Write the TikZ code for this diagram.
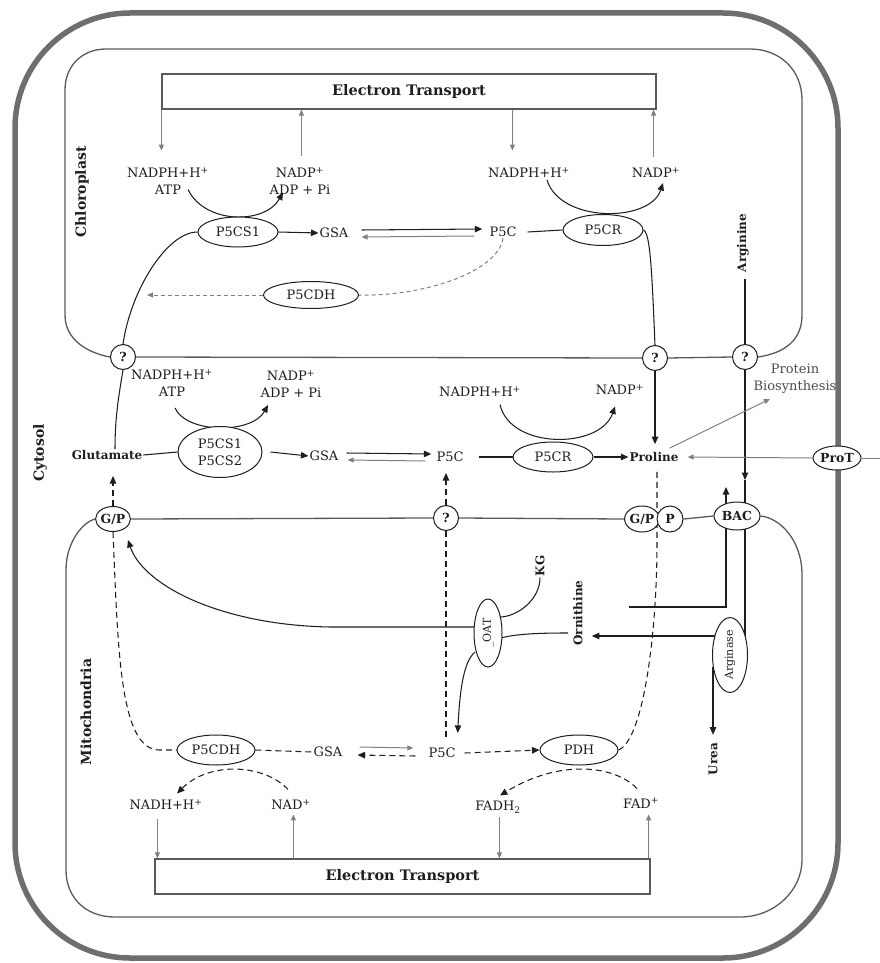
\documentclass[tikz,border=0pt]{standalone}
\usepackage{fontspec}
\setmainfont{DejaVu Serif}
\usetikzlibrary{shapes.geometric,arrows.meta,calc}
\pgfdeclarelayer{bg}
\pgfsetlayers{bg,main}
\definecolor{memc}{HTML}{5A5A5A}
\definecolor{outc}{HTML}{6E6E6E}
\definecolor{grc}{HTML}{808080}
\definecolor{inkc}{HTML}{1E1E1E}
\newcommand\fsN{\fontsize{13}{17}\selectfont}
\newcommand\fsB{\bfseries\fontsize{12}{14}\selectfont}
\newcommand\fsQ{\bfseries\fontsize{12.5}{14}\selectfont}
\newcommand\fsE{\bfseries\fontsize{14.5}{17}\selectfont}
\newcommand\fsL{\bfseries\fontsize{14}{17}\selectfont}
\newcommand\fsS{\fontsize{11}{13}\selectfont}
\tikzset{
 every node/.style={text=inkc, inner sep=1pt},
 lab/.style={font=\fsN, align=center},
 blab/.style={font=\fsB},
 vlab/.style={font=\fsB, rotate=90},
 enz/.style={ellipse, draw=inkc, line width=1pt, fill=white, font=\fsN, inner sep=0pt, align=center},
 qmark/.style={circle, draw=inkc, line width=1pt, fill=white, minimum size=25pt, font=\fsQ, inner sep=0pt},
 tport/.style={ellipse, draw=inkc, line width=1pt, fill=white, font=\fsQ, inner sep=0pt},
 etbox/.style={rectangle, draw=memc, line width=1.2pt, font=\fsE},
 memb/.style={draw=memc, line width=1.3pt},
 ln/.style={draw=inkc, line width=1.05pt},
 arr/.style={ln, -{Triangle[length=7.5pt,width=6.5pt]}},
 garr/.style={draw=grc, line width=1pt, -{Triangle[length=6pt,width=5pt]}},
 dsh/.style={dash pattern=on 6pt off 4pt},
 gdsh/.style={draw=grc, line width=1pt, dash pattern=on 4pt off 3pt},
}
\begin{document}
\begin{tikzpicture}[x=1pt,y=-1pt]
\useasboundingbox (0,0) rectangle (880,963);
% ---------- electron transport boxes
\node[etbox, minimum width=494pt, minimum height=35pt] (etT) at (409,91.5) {Electron Transport};
\node[etbox, minimum width=495pt, minimum height=35pt] (etB) at (402.5,876.5) {Electron Transport};
% ---------- chloroplast
\node[lab] (cL1) at (168,181) {NADPH+H\textsuperscript{+}\\ATP};
\node[lab] (cL2) at (300,181) {NADP\textsuperscript{+}\\ADP + Pi};
\node[enz, minimum width=80pt, minimum height=30pt] (cE1) at (238,232) {P5CS1};
\node[lab] (cGSA) at (334,233) {GSA};
\node[lab] (cP5C) at (503,232) {P5C};
\node[enz, minimum width=80pt, minimum height=31pt] (cE2) at (603,230) {P5CR};
\node[lab] (cL3) at (529,173) {NADPH+H\textsuperscript{+}};
\node[lab] (cL4) at (656,173) {NADP\textsuperscript{+}};
\node[enz, minimum width=95pt, minimum height=27pt] (cE3) at (311,295) {P5CDH};
\coordinate (cDHe) at (147,295);
\node[vlab] (argn) at (743,243) {Arginine};
\node[vlab, font=\fsL] (chl) at (82,192) {Chloroplast};
% ---------- membrane transporters
\node[qmark] (q1) at (123,357) {?};
\node[qmark] (q2) at (655,358) {?};
\node[qmark] (q3) at (745,357) {?};
\node[tport, minimum width=32pt, minimum height=25pt] (gp1) at (113,519) {G/P};
\node[qmark] (q4) at (446,518) {?};
\node[tport, minimum width=31pt, minimum height=26pt] (gp2) at (642,519) {G/P};
\node[tport, minimum width=26pt, minimum height=26pt] (pp) at (670,519) {P};
\node[tport, minimum width=46pt, minimum height=28pt] (bac) at (737,516) {BAC};
\node[tport, minimum width=48pt, minimum height=24pt] (prot) at (837,458) {ProT};
\coordinate (protR) at (880,458);
% ---------- cytosol
\node[lab] (yL1) at (172,383) {NADPH+H\textsuperscript{+}\\ATP};
\node[lab] (yL2) at (291,384) {NADP\textsuperscript{+}\\ADP + Pi};
\node[enz, minimum width=84pt, minimum height=51pt] (yE1) at (220,452) {P5CS1\\P5CS2};
\node[blab] (glu) at (107,455) {Glutamate};
\node[lab] (yGSA) at (324,456) {GSA};
\node[lab] (yP5C) at (450,457) {P5C};
\node[enz, minimum width=80pt, minimum height=30pt] (yE2) at (553,457) {P5CR};
\node[blab] (pro) at (654,457) {Proline};
\node[lab] (yL3) at (480,392) {NADPH+H\textsuperscript{+}};
\node[lab] (yL4) at (620,390) {NADP\textsuperscript{+}};
\node[lab, text=black!70] (pbio) at (795,379) {Protein\\Biosynthesis};
\node[vlab, font=\fsL] (cyt) at (40,453) {Cytosol};
% ---------- mitochondria
\node[vlab] (orn) at (578,613) {Ornithine};
\node[vlab] (kg) at (540,566) {KG};
\node[enz, rotate=90, minimum width=68pt, minimum height=28pt, font=\fsS] (oat) at (488,633) {\_OAT};
\node[enz, rotate=90, minimum width=75pt, minimum height=35pt, font=\fsS] (arg) at (730,655) {Arginase};
\node[vlab] (urea) at (713,759) {Urea};
\node[enz, minimum width=78pt, minimum height=30pt] (mE1) at (216,750) {P5CDH};
\node[lab] (mGSA) at (328,752) {GSA};
\node[lab] (mP5C) at (442,753) {P5C};
\node[enz, minimum width=78pt, minimum height=30pt] (mE2) at (579,750) {PDH};
\node[lab] (mL1) at (166,805) {NADH+H\textsuperscript{+}};
\node[lab] (mL2) at (291,805) {NAD\textsuperscript{+}};
\node[lab] (mL3) at (498,807) {FADH\textsubscript{2}};
\node[lab] (mL4) at (641,803) {FAD\textsuperscript{+}};
\node[vlab, font=\fsL] (mit) at (86,712) {Mitochondria};
\coordinate (argTip) at (745,480);
\coordinate (bacUp) at (726,487);
\coordinate (ornL) at (629,607);
\coordinate (gpTip) at (128,540);

\begin{pgfonlayer}{bg}
% outer cell wall
\draw[draw=outc, line width=5.5pt, rounded corners=115pt] (15,13) rectangle (838,958);
% chloroplast envelope
\draw[memb] (q1.west) .. controls (88,353) and (65,340) .. (65,315) -- (65,90)
  .. controls (65,66) and (82,49) .. (106,49) -- (750,49)
  .. controls (780,49) and (802,70) .. (802,100) -- (802,315)
  .. controls (802,340) and (785,353) .. (q3.east);
% mitochondrion envelope
\draw[memb] (gp1.west) .. controls (85,521) and (66,540) .. (66,570) -- (66,870)
  .. controls (66,897) and (85,917) .. (115,917) -- (740,917)
  .. controls (775,917) and (802,890) .. (802,860) -- (802,575)
  .. controls (802,540) and (780,518) .. (bac.east);
\draw[memb] (q1.east) -- (q2.west);
\draw[memb] (q2.east) -- (q3.west);
\draw[memb] (gp1.east) -- (q4.west);
\draw[memb] (q4.east) -- (gp2.west);
\draw[memb] (pp.east) -- (bac.west);
% electron transport arrows
\draw[garr] (etT.south west) -- ++(0,41);
\draw[garr] ($(etT.south west)+(140,46)$) -- ++(0,-46);
\draw[garr] ($(etT.south west)+(351,0)$) -- ++(0,41);
\draw[garr] ($(etT.south east)+(-3,47)$) -- ++(0,-47);
\draw[garr] ($(etB.north west)+(3,-39)$) -- ++(0,39);
\draw[garr] ($(etB.north west)+(139,0)$) -- ++(0,-44);
\draw[garr] ($(etB.north west)+(345,-41)$) -- ++(0,41);
\draw[garr] ($(etB.north east)+(-2,0)$) -- ++(0,-44);
% chloroplast reactions
\draw[arr] (cE1.east) -- (cGSA.west);
\draw[arr] ($(cGSA.east)+(12,-3)$) -- ($(cP5C.west)+(-6,-3)$);
\draw[garr] ($(cP5C.west)+(-14,4)$) -- ($(cGSA.east)+(12,4)$);
\draw[ln] ($(cP5C.east)+(10,0)$) -- (cE2.west);
\draw[arr] ($(cE1.north)+(-50,-27)$) .. controls ($(cE1.north)+(-33,8)$) and ($(cE1.north)+(27,8)$) .. ($(cE1.north)+(45,-24)$);
\draw[arr] ($(cE2.north)+(-56,-34)$) .. controls ($(cE2.north)+(-43,9)$) and ($(cE2.north)+(47,9)$) .. ($(cE2.north)+(60,-31)$);
\draw[ln] (cE2.east) .. controls ($(cE2.east)+(7,3)$) and ($(q2.north)+(-3,-70)$) .. (q2.north);
\draw[gdsh] (cP5C.south) .. controls ($(cP5C.south)+(-5,35)$) and ($(cE3.east)+(60,2)$) .. (cE3.east);
\draw[gdsh, -{Triangle[length=6pt,width=5pt]}] (cE3.west) -- (cDHe);
\draw[ln] (cE1.west) .. controls ($(cE1.west)+(-30,0)$) and ($(q1.north)+(8,-55)$) .. (q1.north);
\draw[ln] (q1.south) .. controls ($(q1.south)+(-5,30)$) and ($(glu.north)+(8,-30)$) .. ($(glu.north)+(8,0)$);
\draw[ln] ($(argn.west -| q3.north)+(0,6)$) -- (q3.north);
\draw[arr] (q3.south) -- (argTip);
\draw[ln] (argTip) -- (argTip |- arg.center);
% cytosol reactions
\draw[ln] (glu.east) -- (yE1.west);
\draw[arr] ($(yE1.east)+(8,0)$) -- (yGSA.west);
\draw[arr] ($(yGSA.east)+(7,-3)$) -- ($(yP5C.west)+(-4,-3)$);
\draw[garr] ($(yP5C.west)+(-10,4)$) -- ($(yGSA.east)+(8,4)$);
\draw[ln] ($(yP5C.east)+(14,0)$) -- (yE2.west);
\draw[arr] (yE2.east) -- (pro.west);
\draw[arr] ($(yE1.north)+(-45,-18)$) .. controls ($(yE1.north)+(-33,8)$) and ($(yE1.north)+(32,8)$) .. ($(yE1.north)+(48,-21)$);
\draw[arr] ($(yE2.north)+(-53,-37)$) .. controls ($(yE2.north)+(-43,8)$) and ($(yE2.north)+(47,8)$) .. ($(yE2.north)+(62,-35)$);
\draw[arr] (q2.south) -- ($(pro.north)+(1,-7)$);
\draw[garr] ($(pro.north east)+(-10,-3)$) -- ($(pbio.south)+(-25,4)$);
\draw[garr] (prot.west) -- ($(pro.east)+(8,0)$);
\draw[draw=grc, line width=1pt] (prot.east) -- (protR);
\draw[arr, dsh] (q4.north) -- ++(0,-32);
\draw[arr, dsh] (gp1.north) -- ++(0,-30);
% mitochondrial reactions
\draw[arr] (ornL) -| (bacUp);
\draw[arr] ($(arg.center)+(-10,-19)$) -- ($(orn.south)+(8,23)$);
\draw[arr] ($(arg.center)+(-17,12)$) -- ($(urea.east)+(0,-7)$);
\draw[ln] (kg.west) .. controls ($(kg.west)+(0,22)$) and ($(oat.center)+(30,-17)$) .. ($(oat.center)+(13,-16)$);
\draw[ln] ($(oat.center)+(13,5)$) .. controls ($(oat.center)+(30,0)$) and ($(orn.north)+(-20,20)$) .. ($(orn.north)+(-4,20)$);
\draw[arr] ($(oat.center)+(-13,-6)$) -- ++(-145,0) .. controls +(-110,-2) and +(15,45) .. (gpTip);
\draw[arr] ($(oat.center)+(-13,19)$) .. controls +(-12,10) and +(2,-40) .. ($(mP5C.north east)+(1,-14)$);
\draw[ln, dsh, shorten >=6pt] (q4.south) -- (q4.south |- mP5C.north);
\draw[ln, dsh] (gp1.south) .. controls ($(gp1.south)+(5,118)$) and ($(mE1.west)+(-57,0)$) .. ($(mE1.west)+(-17,0)$) -- (mE1.west);
\draw[ln, dsh] (mE1.east) -- (mGSA.west);
\draw[garr] ($(mGSA.east)+(16,-5)$) -- ($(mP5C.west)+(-14,-5)$);
\draw[arr, dsh] ($(mP5C.west)+(-12,3)$) -- ($(mGSA.east)+(14,3)$);
\draw[arr, dsh] ($(mP5C.east)+(8,0)$) -- (mE2.west);
\draw[ln, dsh] (mE2.east) .. controls +(25,-10) and +(0,90) .. ($(pro.south)+(3,80)$) -- ($(pro.south)+(3,6)$);
\draw[arr, dsh] ($(mE1.south)+(72,24)$) .. controls +(-23,-25) and +(33,-33) .. ($(mE1.south)+(-39,28)$);
\draw[arr, dsh] ($(mE2.south)+(58,23)$) .. controls +(-22,-23) and +(60,-37) .. ($(mE2.south)+(-79,30)$);
\end{pgfonlayer}
\end{tikzpicture}
\end{document}
